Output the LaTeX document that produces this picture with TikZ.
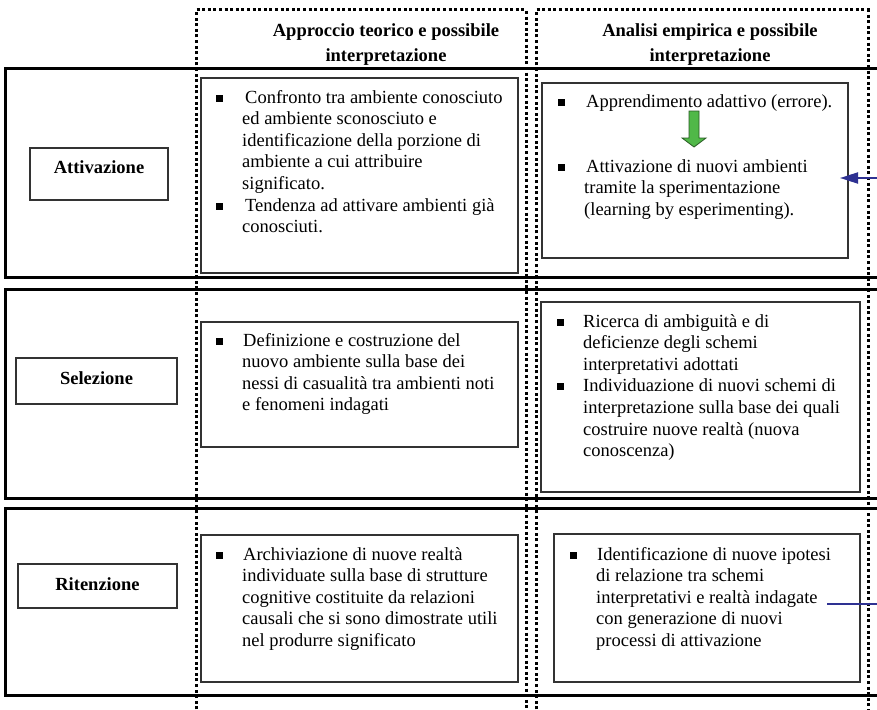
\documentclass[tikz,border=0pt]{standalone}
\usepackage{fontspec}
\setmainfont{Liberation Serif}
\usetikzlibrary{arrows.meta,fit}
\definecolor{linkblue}{RGB}{46,49,146}
\definecolor{stepgreen}{RGB}{80,184,72}
\definecolor{stepgreenline}{RGB}{40,90,35}
% square list bullet, and the bullet column of the item lists
\newcommand{\sqbullet}{\rule[1.5pt]{7pt}{7pt}}
\newcommand{\bl}{\makebox[26pt][l]{\sqbullet}}
\begin{document}
\begin{tikzpicture}[x=1pt,y=-1pt,
  rowband/.style={draw=black,line width=3pt,inner sep=0pt,outer sep=0pt},
  itembox/.style={draw=black!80,line width=1.3pt,inner sep=0pt,outer sep=0pt},
  phasebox/.style={draw=black!80,line width=1.3pt,inner sep=0pt,outer sep=0pt},
  colframe/.style={line width=3pt,dash pattern=on 3pt off 2.6pt},
  bodytext/.style={inner sep=0pt,anchor=base west,font={\fontsize{18.5}{21.6}\selectfont}},
  headtext/.style={inner sep=0pt,anchor=base,font={\fontsize{18.5}{24.6}\selectfont\bfseries}},
  phasetext/.style={inner sep=0pt,anchor=base,font={\fontsize{18.5}{21.6}\selectfont\bfseries}},
  feedback/.style={draw=linkblue,line width=2pt,-{Triangle[length=18pt,width=11pt]}},
  nextstep/.style={fill=stepgreen,draw=stepgreenline,line width=0.8pt,line join=miter}
]
\useasboundingbox (0,0) rectangle (877,709);
\fill[white] (0,0) rectangle (877,709);

% horizontal bands, one per phase
\node[rowband, fit={(5,68) (900,277)}] (rowatt) {};
\node[rowband, fit={(5,289) (900,498)}] (rowsel) {};
\node[rowband, fit={(5,508) (900,695)}] (rowret) {};

% dotted column frames
\draw[colframe] (196,715) -- (196,10) -- (526,10) -- (526,715);
\draw[colframe] (536,715) -- (536,10) -- (868,10) -- (868,715);

% column headings
\node[headtext] (headtheory) at (386,37) {\begin{tabular}[t]{@{}c@{}}Approccio teorico e possibile\\interpretazione\end{tabular}};
\node[headtext] (headempiric) at (710,37) {\begin{tabular}[t]{@{}c@{}}Analisi empirica e possibile\\interpretazione\end{tabular}};

% phase labels
\node[phasebox, fit={(30,148) (168,200)}] (attbox) {};
\node[phasetext] (attlabel) at (99,173) {Attivazione};
\node[phasebox, fit={(16,358) (177,404)}] (selbox) {};
\node[phasetext] (sellabel) at (96.5,384) {Selezione};
\node[phasebox, fit={(18,564) (177,608)}] (retbox) {};
\node[phasetext] (retlabel) at (97.5,590) {Ritenzione};

% theory column
\node[itembox, fit={(201,78) (518,273)}] (atttheory) {};
\node[bodytext] (atttheorytext) at (216,103) {\begin{tabular}[t]{@{}l@{}l@{}}
\bl & \hspace{3pt}Confronto tra ambiente conosciuto\\
 & ed ambiente sconosciuto e\\
 & identificazione della porzione di\\
 & ambiente a cui attribuire\\
 & significato.\\
\bl & \hspace{3pt}Tendenza ad attivare ambienti già\\
 & conosciuti.
\end{tabular}};

\node[itembox, fit={(201,322) (518,447)}] (seltheory) {};
\node[bodytext] (seltheorytext) at (216,346) {\begin{tabular}[t]{@{}l@{}l@{}}
\bl & \hspace{1pt}Definizione e costruzione del\\
 & nuovo ambiente sulla base dei\\
 & nessi di casualità tra ambienti noti\\
 & e fenomeni indagati
\end{tabular}};

\node[itembox, fit={(201,535) (518,682)}] (rettheory) {};
\node[bodytext] (rettheorytext) at (216,560) {\begin{tabular}[t]{@{}l@{}l@{}}
\bl & \hspace{1pt}Archiviazione di nuove realtà\\
 & individuate sulla base di strutture\\
 & cognitive costituite da relazioni\\
 & causali che si sono dimostrate utili\\
 & nel produrre significato
\end{tabular}};

% empirical column
\node[itembox, fit={(542,83) (848,258)}] (attempiric) {};
\node[bodytext] (attempirictop) at (558,107) {\begin{tabular}[t]{@{}l@{}l@{}}
\bl & \hspace{2pt}Apprendimento adattivo (errore).
\end{tabular}};
\node[bodytext] (attempiricbottom) at (558,172) {\begin{tabular}[t]{@{}l@{}l@{}}
\bl & \hspace{2pt}Attivazione di nuovi ambienti\\
 & tramite la sperimentazione\\
 & (learning by esperimenting).
\end{tabular}};
\draw[nextstep] (689,111) -- (699,111) -- (699,138) -- (706,138) -- (694,147) -- (682,138) -- (689,138) -- cycle;

\node[itembox, fit={(541,302) (860,492)}] (selempiric) {};
\node[bodytext] (selempirictext) at (557,327) {\begin{tabular}[t]{@{}l@{}l@{}}
\bl & Ricerca di ambiguità e di\\
 & deficienze degli schemi\\
 & interpretativi adottati\\
\bl & Individuazione di nuovi schemi di\\
 & interpretazione sulla base dei quali\\
 & costruire nuove realtà (nuova\\
 & conoscenza)
\end{tabular}};

\node[itembox, fit={(554,534) (860,682)}] (retempiric) {};
\node[bodytext] (retempirictext) at (570,560) {\begin{tabular}[t]{@{}l@{}l@{}}
\bl & \hspace{1pt}Identificazione di nuove ipotesi\\
 & di relazione tra schemi\\
 & interpretativi e realtà indagate\\
 & con generazione di nuovi\\
 & processi di attivazione
\end{tabular}};

% feedback from retention back to activation
\coordinate (retout) at (827,604);
\coordinate (attin) at (840,178);
\draw[feedback] (retout) -- ++(60,0) |- (attin);
\end{tikzpicture}
\end{document}
